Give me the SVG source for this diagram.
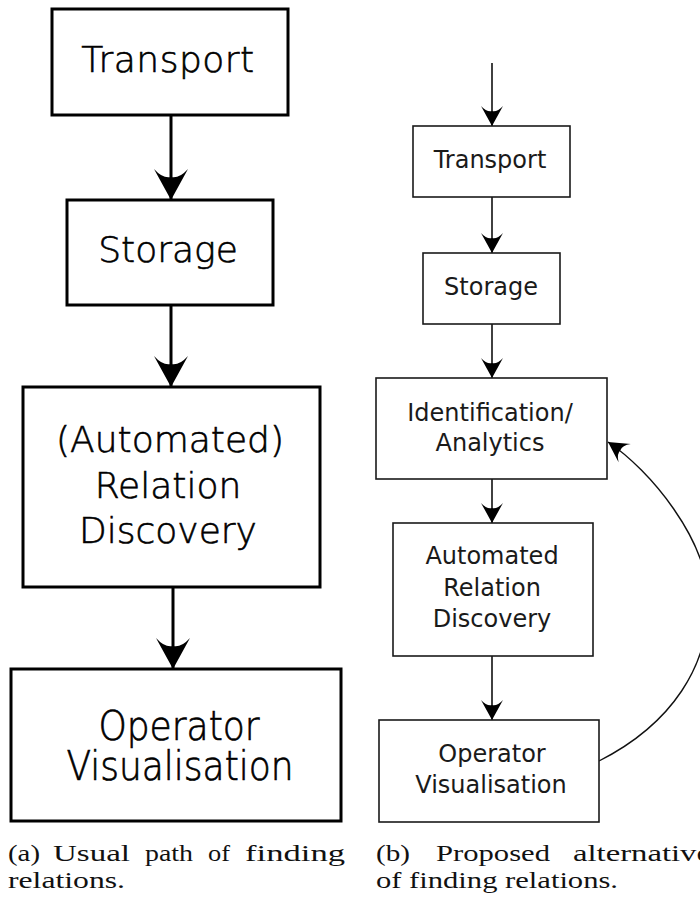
<svg xmlns="http://www.w3.org/2000/svg" width="700" height="908" viewBox="0 0 700 908">
  <style>
    .boxA { fill: #fff; stroke: #000; stroke-width: 3; }
    .boxB { fill: #fff; stroke: #1a1a1a; stroke-width: 1.6; }
    .lblA { font-family: "DejaVu Sans", "Liberation Sans", sans-serif; font-size: 36px; font-weight: 300; fill: #000; stroke: #000; stroke-width: 0.6; text-anchor: middle; }
    .lblB { font-family: "DejaVu Sans", "Liberation Sans", sans-serif; font-size: 24px; fill: #1a1a1a; text-anchor: middle; }
    .edgeA { fill: none; stroke: #000; stroke-width: 3; }
    .edgeB { fill: none; stroke: #111; stroke-width: 1.6; }
    .loop { fill: none; stroke: #111; stroke-width: 1.4; }
    .cap { font-family: "Liberation Serif", "Times New Roman", serif; font-size: 23.5px; fill: #111; }
  </style>
  <defs>
    <!-- swept-back arrowhead, tip at the origin pointing along +x -->
    <marker id="headA" viewBox="-32 -18 34 36" markerWidth="34" markerHeight="36" refX="0" refY="0" orient="auto" markerUnits="userSpaceOnUse">
      <path d="M0,0 L-31,-17 Q-21,-8 -23,0 Q-21,8 -31,17 Z" fill="#000"/>
    </marker>
    <marker id="headB" viewBox="-32 -18 34 36" markerWidth="22" markerHeight="23.3" refX="0" refY="0" orient="auto" markerUnits="userSpaceOnUse">
      <path d="M0,0 L-31,-17 Q-21,-8 -23,0 Q-21,8 -31,17 Z" fill="#000"/>
    </marker>
  </defs>

  <!-- connectors -->
  <g id="connectors">
    <line class="edgeA" x1="171" y1="116" x2="171" y2="200" marker-end="url(#headA)"/>
    <line class="edgeA" x1="171" y1="306" x2="171" y2="387" marker-end="url(#headA)"/>
    <line class="edgeA" x1="173" y1="588" x2="173" y2="669" marker-end="url(#headA)"/>

    <line class="edgeB" x1="492" y1="63" x2="492" y2="126" marker-end="url(#headB)"/>
    <line class="edgeB" x1="492" y1="197" x2="492" y2="253" marker-end="url(#headB)"/>
    <line class="edgeB" x1="492" y1="324" x2="492" y2="378" marker-end="url(#headB)"/>
    <line class="edgeB" x1="492" y1="479" x2="492" y2="523" marker-end="url(#headB)"/>
    <line class="edgeB" x1="492" y1="656" x2="492" y2="720" marker-end="url(#headB)"/>
    <path class="loop" d="M599,761 C672,724 710,665 708,600 C708,540 650,470 608,442" marker-end="url(#headB)"/>
  </g>

  <!-- left column -->
  <g id="a-transport">
    <rect class="boxA" x="52" y="9" width="236" height="106"/>
    <text class="lblA" x="168" y="72" letter-spacing="0.5">Transport</text>
  </g>
  <g id="a-storage">
    <rect class="boxA" x="67" y="200" width="206" height="105"/>
    <text class="lblA" x="168" y="262">Storage</text>
  </g>
  <g id="a-discovery">
    <rect class="boxA" x="23" y="387" width="297" height="200"/>
    <text class="lblA" x="170" y="452">(Automated)</text>
    <text class="lblA" x="168" y="498">Relation</text>
    <text class="lblA" x="168" y="543">Discovery</text>
  </g>
  <g id="a-visualisation">
    <rect class="boxA" x="11" y="669" width="330" height="152"/>
    <text class="lblA" transform="translate(179,740) scale(1,1.12)">Operator</text>
    <text class="lblA" transform="translate(180,780) scale(1,1.12)">Visualisation</text>
  </g>

  <!-- right column -->
  <g id="b-transport">
    <rect class="boxB" x="413" y="126" width="157" height="71"/>
    <text class="lblB" x="490" y="168">Transport</text>
  </g>
  <g id="b-storage">
    <rect class="boxB" x="423" y="253" width="137" height="71"/>
    <text class="lblB" x="491" y="295">Storage</text>
  </g>
  <g id="b-analytics">
    <rect class="boxB" x="376" y="378" width="231" height="101"/>
    <text class="lblB" x="490" y="421">Identification/</text>
    <text class="lblB" x="490" y="451">Analytics</text>
  </g>
  <g id="b-discovery">
    <rect class="boxB" x="393" y="523" width="200" height="133"/>
    <text class="lblB" x="492" y="564">Automated</text>
    <text class="lblB" x="492" y="596">Relation</text>
    <text class="lblB" x="492" y="627">Discovery</text>
  </g>
  <g id="b-visualisation">
    <rect class="boxB" x="379" y="720" width="220" height="102"/>
    <text class="lblB" x="492" y="762">Operator</text>
    <text class="lblB" x="491" y="793">Visualisation</text>
  </g>

  <!-- captions -->
  <g id="caption-a">
    <text class="cap" x="8" y="861" textLength="32" lengthAdjust="spacingAndGlyphs">(a)</text>
    <text class="cap" x="53" y="861" textLength="77" lengthAdjust="spacingAndGlyphs">Usual</text>
    <text class="cap" x="145" y="861" textLength="48" lengthAdjust="spacingAndGlyphs">path</text>
    <text class="cap" x="208" y="861" textLength="22" lengthAdjust="spacingAndGlyphs">of</text>
    <text class="cap" x="245" y="861" textLength="100" lengthAdjust="spacingAndGlyphs">finding</text>
    <text class="cap" x="8" y="888" textLength="117" lengthAdjust="spacingAndGlyphs">relations.</text>
  </g>
  <g id="caption-b">
    <text class="cap" x="376" y="861" textLength="34" lengthAdjust="spacingAndGlyphs">(b)</text>
    <text class="cap" x="436" y="861" textLength="114" lengthAdjust="spacingAndGlyphs">Proposed</text>
    <text class="cap" x="573" y="861" textLength="138" lengthAdjust="spacingAndGlyphs">alternative</text>
    <text class="cap" x="376" y="888" textLength="242" lengthAdjust="spacingAndGlyphs">of finding relations.</text>
  </g>
</svg>
